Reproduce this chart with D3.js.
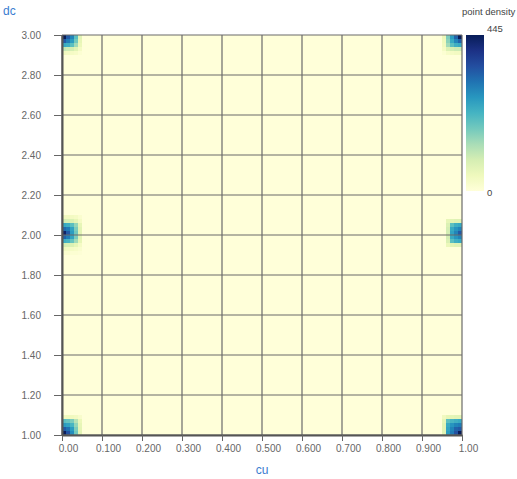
<!DOCTYPE html>
<html>
<meta charset="utf-8">
<head>
<script src="https://d3js.org/d3.v7.min.js"></script>
<style>
  body { margin: 0; background: #fff; font-family: "Liberation Sans", Arial, sans-serif; }
  .axis text { fill: #666; font-size: 10px; font-family: "Liberation Sans", Arial, sans-serif; }
  .axis .domain { stroke: #555; stroke-width: 2px; }
  .axis .tick line { stroke: #666; }
  .grid line { stroke: #6a6a6a; stroke-width: 1.2px; }
  .title { fill: #3a7cd0; font-size: 12px; }
  .legend text { fill: #444; font-size: 9.5px; }
</style>
</head>
<body>
<svg id="chart" width="517" height="479"></svg>
<script>

var cuDomain = [0, 1],
    dcDomain = [1, 3];
var cuTicks = [0, 0.1, 0.2, 0.3, 0.4, 0.5, 0.6, 0.7, 0.8, 0.9, 1];
var dcTicks = [1, 1.2, 1.4, 1.6, 1.8, 2, 2.2, 2.4, 2.6, 2.8, 3];
var cuStep = 0.01, dcStep = 0.02;
var maxDensity = 445;

/* clusters: lower-left corner of the block (cu, dc), counts listed top row first */
var clusterCu = [0, 0, 0, 0.95, 0.96, 0.95];
var clusterDc = [2.90, 1.90, 1.00, 2.90, 1.94, 1.00];

var topLeft = [
  [445, 340, 290, 200, 70],
  [340, 300, 260, 180, 60],
  [240, 230, 200, 140, 50],
  [110, 100, 90, 70, 30],
  [40, 35, 30, 25, 10]
];
var midLeft = [
  [40, 40, 35, 30, 15],
  [90, 85, 80, 60, 30],
  [240, 230, 200, 150, 60],
  [320, 300, 250, 170, 70],
  [430, 340, 260, 180, 70],
  [330, 300, 250, 170, 70],
  [230, 220, 190, 140, 60],
  [90, 85, 80, 60, 30],
  [40, 35, 30, 25, 15],
  [15, 15, 10, 10, 5]
];
var bottomLeft = [
  [40, 45, 40, 35, 20],
  [200, 190, 170, 120, 50],
  [260, 250, 220, 150, 60],
  [340, 310, 260, 170, 65],
  [440, 350, 280, 180, 70]
];
var topRight = [
  [50, 170, 260, 330, 445],
  [45, 160, 240, 290, 330],
  [40, 140, 200, 230, 240],
  [30, 80, 90, 100, 100],
  [10, 25, 30, 35, 35]
];
var midRight = [
  [60, 70, 75, 75],
  [80, 200, 230, 240],
  [90, 240, 270, 290],
  [90, 250, 290, 340],
  [90, 240, 270, 290],
  [80, 200, 230, 240],
  [50, 70, 75, 75]
];
var bottomRight = [
  [40, 60, 65, 70, 70],
  [60, 200, 220, 230, 240],
  [70, 240, 270, 290, 300],
  [70, 250, 290, 330, 340],
  [70, 260, 300, 350, 445]
];
var clusterCounts = [topLeft, midLeft, bottomLeft, topRight, midRight, bottomRight];

var margin = {top: 35, left: 62},
    width = 400,
    height = 400;

var svg = d3.select("#chart");
var g = svg.append("g")
    .attr("transform", "translate(" + margin.left + "," + margin.top + ")");

var x = d3.scaleLinear().domain(cuDomain).range([0, width]);
var y = d3.scaleLinear().domain(dcDomain).range([height, 0]);
var color = d3.scaleSequential(d3.interpolateYlGnBu).domain([0, maxDensity]);

// flatten clusters into cells
var cells = [];
clusterCounts.forEach(function(rows, k) {
  var n = rows.length;
  rows.forEach(function(row, r) {
    row.forEach(function(v, c) {
      cells.push({
        cu: clusterCu[k] + c * cuStep,
        dc: clusterDc[k] + (n - 1 - r) * dcStep,
        value: v
      });
    });
  });
});

// empty bins
g.append("rect")
    .attr("width", width)
    .attr("height", height)
    .attr("fill", color(0));

g.selectAll("rect.cell").data(cells)
  .enter().append("rect")
    .attr("class", "cell")
    .attr("x", function(d) { return x(d.cu); })
    .attr("y", function(d) { return y(d.dc + dcStep); })
    .attr("width", function(d) { return x(d.cu + cuStep) - x(d.cu); })
    .attr("height", function(d) { return y(d.dc) - y(d.dc + dcStep); })
    .attr("fill", function(d) { return color(d.value); });

// grid
var grid = g.append("g").attr("class", "grid");
grid.selectAll("line.v").data(cuTicks)
  .enter().append("line")
    .attr("x1", function(d) { return x(d); })
    .attr("x2", function(d) { return x(d); })
    .attr("y1", 0).attr("y2", height);
grid.selectAll("line.h").data(dcTicks)
  .enter().append("line")
    .attr("y1", function(d) { return y(d); })
    .attr("y2", function(d) { return y(d); })
    .attr("x1", 0).attr("x2", width);

var fmt = d3.format(".3r");

g.append("g")
    .attr("class", "axis")
    .attr("transform", "translate(0," + height + ")")
    .call(d3.axisBottom(x).tickValues(cuTicks).tickFormat(fmt).tickSize(6).tickSizeOuter(0).tickPadding(4))
  .selectAll("text")
    .attr("dx", 6);

g.append("g")
    .attr("class", "axis")
    .call(d3.axisLeft(y).tickValues(dcTicks).tickFormat(fmt).tickSize(8).tickSizeOuter(0).tickPadding(13));

svg.append("text")
    .attr("class", "title")
    .attr("x", 3)
    .attr("y", 15)
    .text("dc");

svg.append("text")
    .attr("class", "title")
    .attr("x", margin.left + width / 2)
    .attr("y", 474)
    .attr("text-anchor", "middle")
    .text("cu");

// legend
var legend = svg.append("g").attr("class", "legend");
var grad = svg.append("defs").append("linearGradient")
    .attr("id", "dens")
    .attr("x1", 0).attr("y1", 1).attr("x2", 0).attr("y2", 0);
grad.selectAll("stop").data(d3.range(0, 1.01, 0.1))
  .enter().append("stop")
    .attr("offset", function(d) { return d; })
    .attr("stop-color", function(d) { return color(d * maxDensity); });

var ly = d3.scaleLinear().domain([0, maxDensity]).range([191, 35]);
legend.append("rect")
    .attr("x", 466)
    .attr("y", ly(maxDensity))
    .attr("width", 18)
    .attr("height", ly(0) - ly(maxDensity))
    .attr("fill", "url(#dens)");
legend.append("text")
    .attr("x", 487).attr("y", ly(maxDensity) - 3)
    .text(maxDensity);
legend.append("text")
    .attr("x", 487).attr("y", ly(0) + 5)
    .text(0);
legend.append("text")
    .attr("x", 462).attr("y", 15)
    .text("point density");

</script>
</body>
</html>
